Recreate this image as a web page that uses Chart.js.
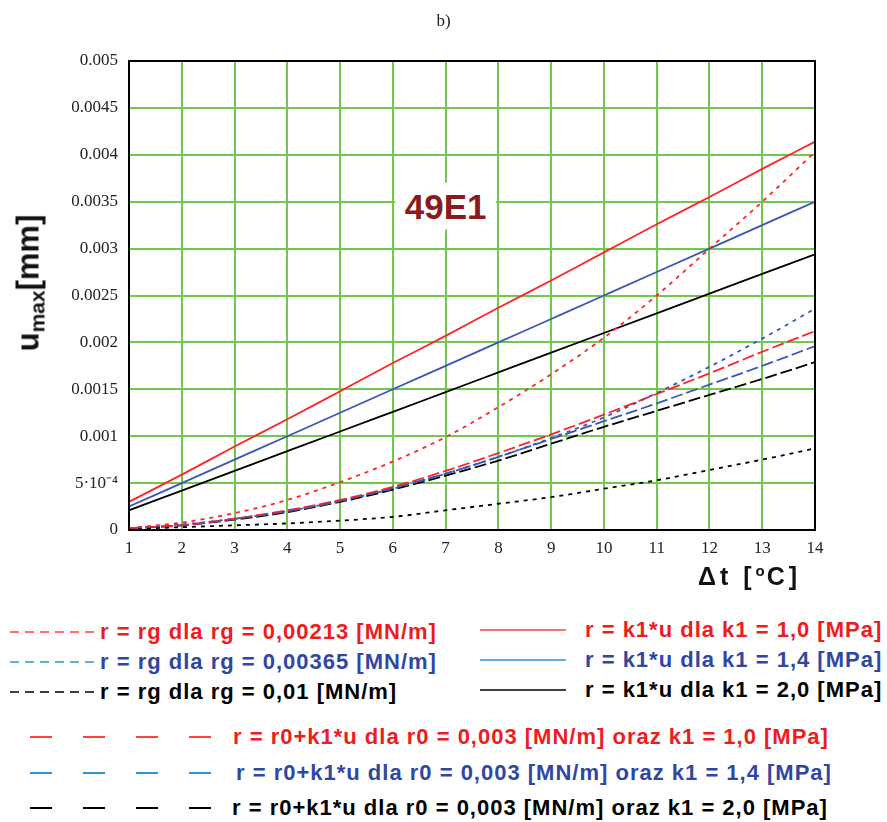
<!DOCTYPE html>
<html><head><meta charset="utf-8">
<script src="https://cdn.jsdelivr.net/npm/chart.js@4/dist/chart.umd.min.js"></script>
<style>
body{margin:0;background:#fff;width:887px;height:822px;position:relative;overflow:hidden;font-family:"Liberation Sans",Arial,sans-serif}
canvas{position:absolute;left:0;top:0}
.abs{position:absolute;white-space:nowrap}
#title{left:0;width:887px;top:11px;text-align:center;font-family:"Liberation Serif",serif;font-size:17px;color:#222}
#ytitle{left:30px;top:283px;transform:translate(-50%,-50%) rotate(-90deg);font-weight:bold;font-size:31px;color:#111;line-height:1}
#ytitle sub{font-size:21px;vertical-align:-6px}
#xtitle{left:698px;top:563px;font-weight:bold;font-size:25px;letter-spacing:4px;color:#111;line-height:1}
#xtitle sup{font-size:15px;vertical-align:9px;letter-spacing:2px}
#tag{transform:translate(-50%,-50%);background:#fff;padding:6px 10px;font-weight:bold;font-size:35px;color:#8b1a1a;line-height:1}
.leg{position:absolute;white-space:nowrap;font-weight:bold;font-size:22px;letter-spacing:1px;line-height:1}
.leg svg{position:absolute}
</style></head>
<body>
<canvas id="c" width="887" height="600"></canvas>
<div class="abs" id="title">b)</div>
<div class="abs" id="ytitle">u<sub>max</sub>[mm]</div>
<div class="abs" id="xtitle">Δt [<sup>o</sup>C]</div>
<div class="abs" id="tag">49E1</div>
<div id="legend"></div>
<script>
// ---- data ----
const deltaT = [1,2,3,4,5,6,7,8,9,10,11,12,13,14];
const yTicks = [0,0.0005,0.001,0.0015,0.002,0.0025,0.003,0.0035,0.004,0.0045,0.005];
// r = rg (dotted)
const rg_00213 = [0.00002,0.00008,0.00018,0.00032,0.00051,0.00073,0.00099,0.00131,0.00166,0.00205,0.0025,0.003,0.0035,0.00403];
const rg_00365 = [0.00002,0.00006,0.00012,0.0002,0.00031,0.00044,0.0006,0.00078,0.00098,0.0012,0.00146,0.00174,0.00204,0.00236];
const rg_001   = [0.00001,0.00003,0.00005,0.00007,0.0001,0.00014,0.00021,0.00028,0.00035,0.00044,0.00053,0.00064,0.00075,0.00087];
// r = k1*u (solid)
const k1_10 = [0.0003,0.00059,0.00089,0.00118,0.00148,0.00178,0.00207,0.00237,0.00266,0.00296,0.00326,0.00355,0.00385,0.00414];
const k1_14 = [0.00025,0.0005,0.00075,0.001,0.00125,0.0015,0.00175,0.002,0.00225,0.0025,0.00275,0.003,0.00325,0.0035];
const k1_20 = [0.00021,0.00042,0.00063,0.00084,0.00105,0.00126,0.00147,0.00168,0.00189,0.0021,0.00231,0.00252,0.00273,0.00294];
// r = r0 + k1*u (dashed)
const r0k1_10 = [0.00002,0.00005,0.00012,0.00021,0.00032,0.00046,0.00063,0.00082,0.00102,0.00123,0.00145,0.00167,0.0019,0.00212];
const r0k1_14 = [0.00002,0.00005,0.00012,0.0002,0.00031,0.00045,0.0006,0.00078,0.00097,0.00116,0.00135,0.00155,0.00175,0.00196];
const r0k1_20 = [0.00002,0.00005,0.00011,0.00019,0.0003,0.00043,0.00058,0.00074,0.00092,0.0011,0.00127,0.00144,0.00161,0.00179];
const tagText = "49E1";
const tagPos = [7, 0.00345];

const labelsRg = ["r = rg dla rg = 0,00213 [MN/m]","r = rg dla rg = 0,00365 [MN/m]","r = rg dla rg = 0,01 [MN/m]"];
const labelsK1 = ["r = k1*u dla k1 = 1,0 [MPa]","r = k1*u dla k1 = 1,4 [MPa]","r = k1*u dla k1 = 2,0 [MPa]"];
const labelsR0 = ["r = r0+k1*u dla r0 = 0,003 [MN/m] oraz k1 = 1,0 [MPa]","r = r0+k1*u dla r0 = 0,003 [MN/m] oraz k1 = 1,4 [MPa]","r = r0+k1*u dla r0 = 0,003 [MN/m] oraz k1 = 2,0 [MPa]"];

// ---- styles ----
const lineCols = ['#ff2424','#3a56b8','#000000'];
const textCols = ['#ee1c1c','#2f47a3','#000000'];
const legLineCols = ['#ff4040','#2a96d6','#000000'];

function pts(arr){ return deltaT.map((t,i)=>({x:t,y:arr[i]})); }
function ds(label, arr, col, dash){
  return {label, data:pts(arr), borderColor:col, backgroundColor:col, borderWidth:1.8,
    borderDash:dash, pointRadius:0, fill:false, cubicInterpolationMode:'monotone'};
}
const datasets = [
  ds(labelsRg[0], rg_00213, lineCols[0], [4,5]),
  ds(labelsRg[1], rg_00365, lineCols[1], [4,5]),
  ds(labelsRg[2], rg_001,   lineCols[2], [4,5]),
  ds(labelsK1[0], k1_10, lineCols[0], []),
  ds(labelsK1[1], k1_14, lineCols[1], []),
  ds(labelsK1[2], k1_20, lineCols[2], []),
  ds(labelsR0[0], r0k1_10, lineCols[0], [12,4]),
  ds(labelsR0[1], r0k1_14, lineCols[1], [12,4]),
  ds(labelsR0[2], r0k1_20, lineCols[2], [12,4]),
];

const frame = {
  id:'frame',
  afterDatasetsDraw(chart){
    const a = chart.chartArea, ctx = chart.ctx;
    ctx.save(); ctx.strokeStyle='#000'; ctx.lineWidth=2;
    ctx.strokeRect(a.left, a.top, a.right-a.left, a.bottom-a.top);
    ctx.restore();
  },
  afterRender(chart){
    const el = document.getElementById('tag');
    el.style.left = chart.scales.x.getPixelForValue(tagPos[0]) + 'px';
    el.style.top = chart.scales.y.getPixelForValue(tagPos[1]) + 'px';
  }
};

function fmtY(v){
  if (Math.abs(v) < 1e-12) return '0';
  if (Math.abs(v-0.0005) < 1e-9) return '5·10⁻⁴';
  return String(Number(v.toFixed(4)));
}

new Chart(document.getElementById('c'), {
  type:'line',
  data:{datasets},
  options:{
    responsive:false, animation:false,
    layout:{padding:{top:61,right:72,bottom:0,left:0}},
    plugins:{legend:{display:false}, title:{display:false}, tooltip:{enabled:false}},
    scales:{
      x:{type:'linear', min:1, max:14,
        afterFit(s){ s.height = 70; },
        afterBuildTicks(s){ s.ticks = deltaT.map(v=>({value:v})); },
        grid:{color:'#72c84e', lineWidth:2, drawTicks:false},
        border:{display:false},
        ticks:{padding:8, color:'#222', font:{family:'"Liberation Serif", serif', size:17}, maxRotation:0, autoSkip:false}
      },
      y:{type:'linear', min:0, max:0.005,
        afterFit(s){ s.width = 129; },
        afterBuildTicks(s){ s.ticks = yTicks.map(v=>({value:v})); },
        grid:{color:'#72c84e', lineWidth:2, drawTicks:false},
        border:{display:false},
        ticks:{padding:11, color:'#222', font:{family:'"Liberation Serif", serif', size:17}, callback:fmtY, autoSkip:false}
      }
    }
  },
  plugins:[frame]
});

// ---- legend (HTML) ----
const legend = document.getElementById('legend');
function item(x, y, text, color, lineX1, lineX2, lineCol, dash, lw){
  const svgNS = 'http://www.w3.org/2000/svg';
  const svg = document.createElementNS(svgNS,'svg');
  svg.setAttribute('width', 887); svg.setAttribute('height', 6);
  svg.style.left = '0px'; svg.style.top = (y-3)+'px'; svg.style.position='absolute';
  const ln = document.createElementNS(svgNS,'line');
  ln.setAttribute('x1',lineX1); ln.setAttribute('x2',lineX2);
  ln.setAttribute('y1',3); ln.setAttribute('y2',3);
  ln.setAttribute('stroke',lineCol); ln.setAttribute('stroke-width',lw);
  if (dash) ln.setAttribute('stroke-dasharray',dash);
  svg.appendChild(ln);
  legend.appendChild(svg);
  const d = document.createElement('div');
  d.className='leg'; d.textContent=text; d.style.color=color;
  d.style.left = x+'px'; d.style.top = (y-11)+'px';
  legend.appendChild(d);
}
const rowsTop = [632, 662, 692];
for (let i=0;i<3;i++){
  item(100, rowsTop[i], labelsRg[i], textCols[i], 10, 95, legLineCols[i], '9,6', 1.6);
  item(585, rowsTop[i]-2, labelsK1[i], textCols[i], 480, 566, legLineCols[i], null, 1.6);
}
const rowsBot = [737, 773, 808];
const r0x = [233, 236, 232];
for (let i=0;i<3;i++){
  item(r0x[i], rowsBot[i], labelsR0[i], textCols[i], 30, 212, legLineCols[i], '22,31', 2);
}
</script>
</body></html>
